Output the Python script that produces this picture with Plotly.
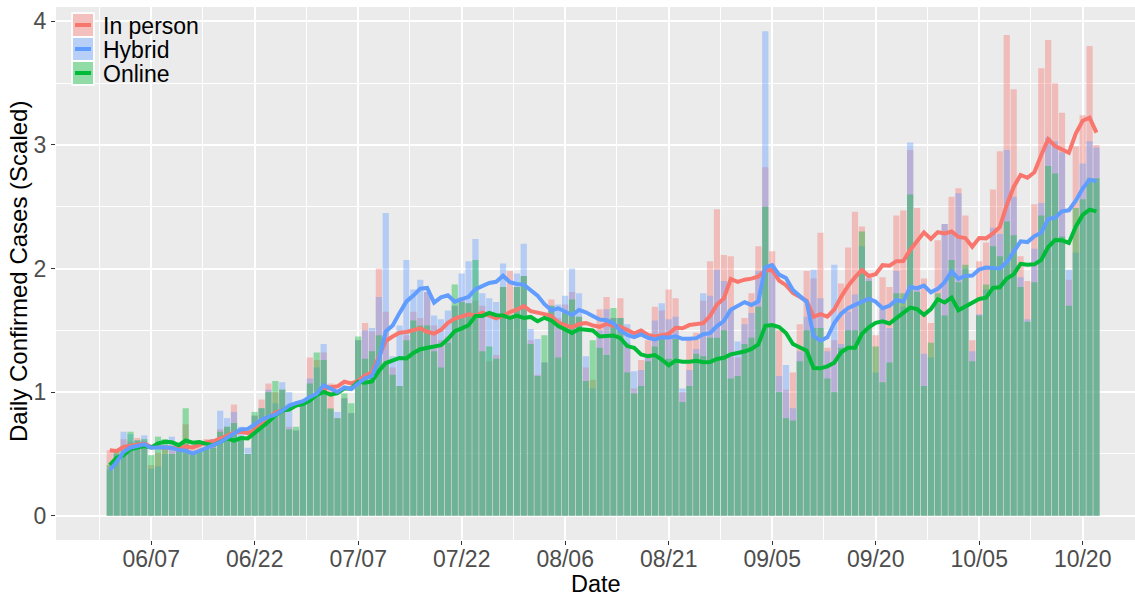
import pandas as pd
import plotly.graph_objects as go

start_date = "2020-06-01"
n_days = 144

in_person = [0.53, 0.52, 0.62, 0.60, 0.63, 0.60, 0.41, 0.51, 0.55, 0.55,
             0.56, 0.74, 0.55, 0.58, 0.62, 0.62, 0.70, 0.72, 0.90, 0.62,
             0.50, 0.81, 0.94, 1.07, 1.00, 1.02, 0.72, 0.69, 0.92, 1.28,
             1.26, 1.32, 1.07, 0.79, 0.95, 0.83, 1.42, 1.56, 1.49, 2.00,
             1.65, 1.20, 1.05, 1.46, 1.65, 1.60, 1.81, 1.54, 1.42, 1.45,
             1.70, 1.77, 1.72, 1.74, 1.70, 1.25, 1.30, 1.85, 1.98, 1.85,
             1.94, 1.42, 1.14, 1.24, 1.75, 1.60, 1.71, 1.81, 1.61, 1.20,
             1.10, 1.67, 1.77, 1.60, 1.76, 1.40, 1.03, 1.26, 1.42, 1.69,
             1.66, 1.83, 1.76, 1.00, 1.44, 1.48, 1.74, 2.06, 2.48, 2.11,
             2.10, 1.28, 1.60, 1.80, 2.18, 2.82, 2.14, 1.50, 1.02, 1.16,
             1.55, 1.98, 1.92, 2.29, 1.36, 1.42, 1.88, 2.17, 2.46, 2.34,
             1.95, 1.46, 1.93, 1.85, 2.43, 2.47, 2.96, 2.49, 1.92, 1.56,
             2.23, 2.36, 2.58, 2.65, 2.43, 1.42, 2.06, 2.21, 2.64, 2.95,
             3.89, 3.45, 2.10, 1.90, 2.52, 3.62, 3.85, 3.50, 3.26, 1.91,
             2.99, 3.24, 3.80, 3.00]

hybrid = [0.37, 0.50, 0.68, 0.66, 0.61, 0.65, 0.38, 0.40, 0.50, 0.64,
          0.54, 0.58, 0.50, 0.52, 0.55, 0.62, 0.85, 0.79, 0.84, 0.72,
          0.55, 0.81, 0.87, 1.02, 0.91, 1.08, 1.00, 0.69, 0.92, 1.11,
          1.20, 1.39, 0.86, 0.84, 0.95, 0.83, 1.42, 1.50, 1.52, 1.77,
          2.45, 1.29, 1.54, 2.07, 1.83, 1.91, 1.81, 1.62, 1.59, 1.66,
          1.70, 1.96, 2.06, 2.24, 1.80, 1.76, 1.73, 2.04, 1.60, 1.96,
          2.20, 1.51, 1.43, 1.24, 1.70, 1.71, 1.78, 2.00, 1.80, 1.29,
          1.03, 1.50, 1.67, 1.60, 1.60, 1.55, 1.17, 1.18, 1.31, 1.58,
          1.72, 1.59, 1.61, 1.03, 1.18, 1.35, 1.80, 1.78, 1.99, 1.90,
          1.67, 1.41, 1.55, 1.64, 1.98, 3.92, 2.03, 1.13, 1.22, 0.87,
          1.33, 1.61, 1.99, 1.76, 1.33, 2.03, 1.39, 1.65, 1.79, 2.18,
          1.92, 1.16, 1.67, 1.52, 1.98, 1.69, 3.02, 1.85, 1.31, 1.28,
          1.72, 2.36, 2.30, 2.61, 2.00, 1.33, 1.63, 1.83, 2.33, 2.28,
          2.96, 2.58, 1.93, 1.59, 2.16, 2.53, 3.06, 3.03, 2.94, 1.99,
          2.13, 2.85, 3.03, 2.98]

online = [0.41, 0.53, 0.53, 0.68, 0.61, 0.62, 0.49, 0.64, 0.62, 0.50,
          0.52, 0.87, 0.50, 0.52, 0.54, 0.55, 0.68, 0.72, 0.75, 0.64,
          0.50, 0.84, 0.87, 1.00, 1.09, 1.02, 0.70, 0.72, 0.92, 1.07,
          1.32, 1.26, 0.87, 0.79, 0.99, 0.91, 1.45, 1.27, 1.33, 1.46,
          1.24, 1.14, 1.05, 1.42, 1.58, 1.54, 1.54, 1.33, 1.20, 1.40,
          1.87, 1.73, 1.72, 2.07, 1.33, 1.37, 1.27, 1.85, 1.59, 1.85,
          1.94, 1.39, 1.13, 1.46, 1.70, 1.28, 1.64, 1.75, 1.61, 1.09,
          1.42, 1.36, 1.30, 1.68, 1.60, 1.16, 0.99, 1.05, 1.25, 1.37,
          1.43, 1.27, 1.43, 0.92, 1.05, 1.31, 1.29, 1.44, 1.44, 1.50,
          1.11, 1.13, 1.39, 1.44, 1.69, 2.50, 1.54, 1.00, 0.79, 0.77,
          1.25, 1.50, 1.52, 1.52, 1.11, 1.00, 1.36, 1.50, 1.50, 2.30,
          1.90, 1.37, 1.08, 1.24, 1.80, 1.80, 2.60, 1.81, 1.05, 1.40,
          1.80, 1.62, 2.07, 1.89, 2.03, 1.25, 1.62, 1.87, 2.18, 2.10,
          2.38, 2.27, 1.85, 1.57, 1.89, 2.43, 2.83, 2.77, 2.26, 1.70,
          2.49, 2.56, 2.73, 2.73]

series_names = ["In person", "Hybrid", "Online"]
series_colors = ["#F8766D", "#619CFF", "#00BA38"]
bar_fills = ["rgba(248,118,109,0.4)", "rgba(97,156,255,0.4)", "rgba(0,186,56,0.4)"]
x_tick_start = "2020-06-07"
x_title = "Date"
y_title = "Daily Confirmed Cases (Scaled)"

dates = pd.date_range(start_date, periods=n_days, freq="D")
values = [in_person, hybrid, online]
smoothed = [pd.Series(v).rolling(7, min_periods=1).mean().tolist() for v in values]

fig = go.Figure()
for name, vals, fill in zip(series_names, values, bar_fills):
    fig.add_trace(go.Bar(x=dates, y=vals, name=name, marker=dict(color=fill, line=dict(width=0)),
                         showlegend=False, hoverinfo="x+y+name"))
# line drawing order: In person, Online, Hybrid
for idx in [0, 2, 1]:
    fig.add_trace(go.Scatter(x=dates, y=smoothed[idx], mode="lines", name=series_names[idx],
                             line=dict(color=series_colors[idx], width=4), showlegend=False))

# Figure geometry (pixels)
W, H = 1135, 596
ml, mr, mt, mb = 56, 0, 7, 56
pw, ph = W - ml - mr, H - mt - mb

def px_x(x):
    return (x - ml) / pw

def px_y(y):
    return (H - mb - y) / ph

FONT = "Liberation Sans, Arial, sans-serif"
shapes = []
annotations = []
key_top = 13
key_h = 24
for k, (name, col, fill) in enumerate(zip(series_names, series_colors, bar_fills)):
    y0 = key_top + k * key_h
    y1 = y0 + key_h
    shapes.append(dict(type="rect", xref="paper", yref="paper", x0=px_x(72), x1=px_x(94),
                       y0=px_y(y1), y1=px_y(y0), fillcolor="#F2F2F2",
                       line=dict(color="white", width=1.5), layer="above"))
    shapes.append(dict(type="rect", xref="paper", yref="paper", x0=px_x(73), x1=px_x(93),
                       y0=px_y(y1 - 1), y1=px_y(y0 + 1), fillcolor=fill,
                       line=dict(width=0), layer="above"))
    yc = (y0 + y1) / 2
    shapes.append(dict(type="line", xref="paper", yref="paper", x0=px_x(75), x1=px_x(91),
                       y0=px_y(yc), y1=px_y(yc), line=dict(color=col, width=4), layer="above"))
    annotations.append(dict(text=name, xref="paper", yref="paper", x=px_x(101), y=px_y(yc + 1),
                            xanchor="left", yanchor="middle", showarrow=False,
                            font=dict(family=FONT, size=23, color="black")))

# axis titles
annotations.append(dict(text=x_title, xref="paper", yref="paper", x=px_x(596), y=px_y(584),
                        xanchor="center", yanchor="middle", showarrow=False,
                        font=dict(family=FONT, size=23.5, color="black")))
annotations.append(dict(text=y_title, xref="paper", yref="paper", x=px_x(18), y=px_y(272),
                        xanchor="center", yanchor="middle", showarrow=False, textangle=-90,
                        font=dict(family=FONT, size=24, color="black")))

day_ms = 86400000
fig.update_layout(
    width=W, height=H,
    margin=dict(l=ml, r=mr, t=mt, b=mb, autoexpand=False),
    barmode="overlay", bargap=0.1,
    plot_bgcolor="#EBEBEB", paper_bgcolor="white",
    font=dict(family=FONT, size=23, color="#4D4D4D"),
    shapes=shapes, annotations=annotations,
    showlegend=False,
)
fig.update_xaxes(
    type="date", automargin=False,
    range=["2020-05-24 05:00", "2020-10-27 14:00"],
    tick0=x_tick_start, dtick=15 * day_ms, tickformat="%m/%d",
    ticks="outside", ticklen=4, tickcolor="#333333", tickwidth=1,
    ticklabelstandoff=-6,
    showgrid=True, gridcolor="white", gridwidth=1.6,
    minor=dict(dtick=7.5 * day_ms, tick0=x_tick_start, showgrid=True, gridcolor="white",
               gridwidth=0.7, ticklen=0),
    zeroline=False, showline=False,
    tickfont=dict(family=FONT, size=23, color="#4D4D4D"),
)
fig.update_yaxes(
    automargin=False,
    range=[-0.196, 4.116], tick0=0, dtick=1,
    ticks="outside", ticklen=4, tickcolor="#333333", tickwidth=1,
    showgrid=True, gridcolor="white", gridwidth=1.6,
    minor=dict(dtick=0.5, showgrid=True, gridcolor="white", gridwidth=0.7, ticklen=0),
    zeroline=False, showline=False,
    tickfont=dict(family=FONT, size=23, color="#4D4D4D"),
)

fig.write_html(
    "out.html",
    config={"displayModeBar": False},
    post_script="document.body.style.margin='0';document.body.style.overflow='hidden';",
)
